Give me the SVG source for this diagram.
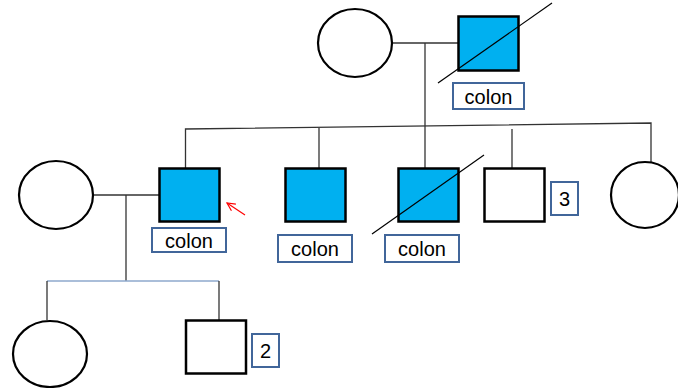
<svg xmlns="http://www.w3.org/2000/svg" width="678" height="388" viewBox="0 0 678 388">
  <defs>
    <style>
      .male { stroke: #000; stroke-width: 2.5; }
      .affected { fill: #00B0F0; }
      .unaffected { fill: #fff; }
      .female { fill: #fff; stroke: #000; stroke-width: 2.2; }
      .line { stroke: #333; stroke-width: 1.3; fill: none; }
      .deceased { stroke: #000; stroke-width: 1.2; }
      .tag { fill: #fff; stroke: #41669A; stroke-width: 2; }
      .txt { font-family: "Liberation Sans", Arial, sans-serif; font-size: 20px; fill: #000; text-anchor: middle; }
    </style>
    <marker id="openhead" viewBox="0 0 10 10" refX="9" refY="5" markerWidth="10" markerHeight="10" markerUnits="userSpaceOnUse" orient="auto">
      <path d="M1,1 L9,5 L1,9" fill="none" stroke="#FF0000" stroke-width="1.2"/>
    </marker>
  </defs>

  <!-- connectors -->
  <g id="connectors">
    <!-- generation I couple and descent -->
    <line class="line" x1="392" y1="43" x2="458" y2="43"/>
    <line class="line" x1="425" y1="43" x2="425" y2="168"/>
    <!-- sibship line -->
    <polyline class="line" points="185.5,168 185.5,129 651,123 651,162"/>
    <line class="line" x1="319" y1="128" x2="319" y2="168"/>
    <line class="line" x1="512" y1="129" x2="512" y2="168"/>
    <!-- generation II couple and descent -->
    <line class="line" x1="93" y1="195" x2="159" y2="195"/>
    <line class="line" x1="126" y1="195" x2="126" y2="281"/>
    <line x1="47" y1="281" x2="219" y2="281" stroke="#8EA9CC" stroke-width="1.5"/>
    <line class="line" x1="47" y1="281" x2="47" y2="320"/>
    <line class="line" x1="219" y1="281" x2="219" y2="320"/>
    <!-- proband arrow -->
    <line x1="245" y1="215" x2="227" y2="203" stroke="#FF0000" stroke-width="1.2" marker-end="url(#openhead)"/>
  </g>

  <!-- generation I -->
  <g id="gen1-female">
    <ellipse class="female" cx="355" cy="43" rx="37" ry="34"/>
  </g>
  <g id="gen1-male">
    <rect class="male affected" x="458.5" y="16.5" width="60" height="54"/>
    <line class="deceased" x1="438" y1="83" x2="552" y2="3"/>
    <rect class="tag" x="453" y="83" width="71" height="26"/>
    <text class="txt" x="488.5" y="104">colon</text>
  </g>

  <!-- generation II -->
  <g id="gen2-spouse">
    <ellipse class="female" cx="56" cy="195" rx="37" ry="34"/>
  </g>
  <g id="gen2-proband">
    <rect class="male affected" x="159.5" y="168.5" width="60" height="53"/>
    <rect class="tag" x="152" y="228" width="74" height="24"/>
    <text class="txt" x="189" y="248">colon</text>
  </g>
  <g id="gen2-brother1">
    <rect class="male affected" x="285.5" y="168.5" width="60" height="53"/>
    <rect class="tag" x="278" y="235" width="74" height="27"/>
    <text class="txt" x="315" y="256">colon</text>
  </g>
  <g id="gen2-brother2">
    <rect class="male affected" x="398.5" y="168.5" width="60" height="53"/>
    <line class="deceased" x1="372" y1="234" x2="484" y2="155"/>
    <rect class="tag" x="385" y="235" width="74" height="27"/>
    <text class="txt" x="422" y="256">colon</text>
  </g>
  <g id="gen2-brothers3">
    <rect class="male unaffected" x="484.5" y="168.5" width="60" height="53"/>
    <rect class="tag" x="551" y="182" width="27" height="33"/>
    <text class="txt" x="564.5" y="206">3</text>
  </g>
  <g id="gen2-sister">
    <ellipse class="female" cx="645" cy="195" rx="34" ry="33"/>
  </g>

  <!-- generation III -->
  <g id="gen3-daughter">
    <ellipse class="female" cx="50" cy="354" rx="37" ry="33"/>
  </g>
  <g id="gen3-sons2">
    <rect class="male unaffected" x="186" y="320.5" width="60" height="53"/>
    <rect class="tag" x="252" y="334" width="27" height="33"/>
    <text class="txt" x="265.5" y="358">2</text>
  </g>
</svg>
